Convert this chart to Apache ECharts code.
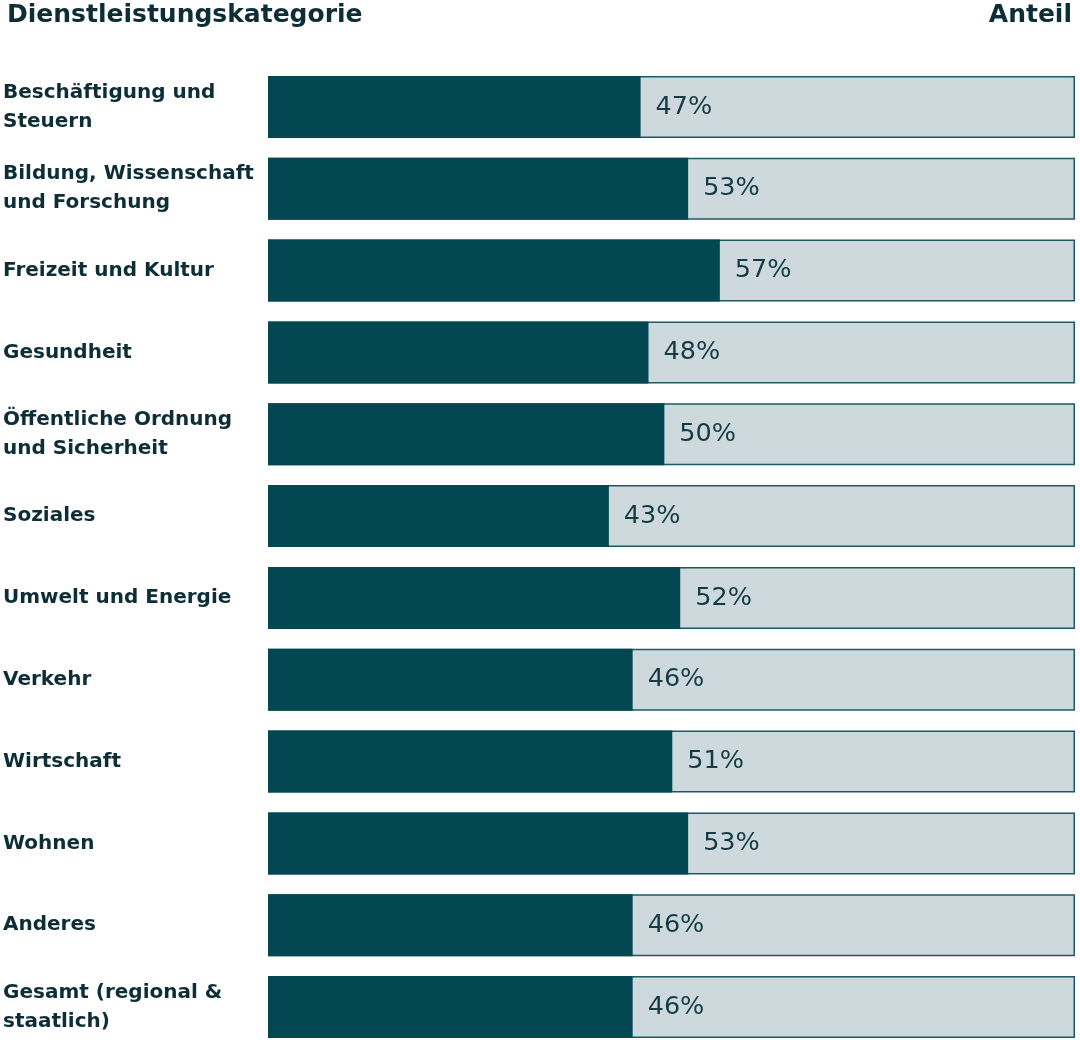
<!DOCTYPE html>
<html>
<head>
<meta charset="utf-8">
<script src="https://cdn.jsdelivr.net/npm/echarts@6/dist/echarts.min.js"></script>
<style>html,body{margin:0;padding:0;background:#fff}#c{width:1080px;height:1044px}</style>
</head>
<body>
<div id="c"></div>
<script>
const categories = [
  "Beschäftigung und\nSteuern",
  "Bildung, Wissenschaft\nund Forschung",
  "Freizeit und Kultur",
  "Gesundheit",
  "Öffentliche Ordnung\nund Sicherheit",
  "Soziales",
  "Umwelt und Energie",
  "Verkehr",
  "Wirtschaft",
  "Wohnen",
  "Anderes",
  "Gesamt (regional &\nstaatlich)"
];
const shares = [47, 53, 57, 48, 50, 43, 52, 46, 51, 53, 46, 46];
const scaleMax = 101.8;
const trackValues = categories.map(() => scaleMax);

const chart = echarts.init(document.getElementById('c'), null, {renderer: 'canvas'});
const FONT = '"DejaVu Sans", "Open Sans", sans-serif';
chart.setOption({
  animation: false,
  backgroundColor: '#ffffff',
  title: [
    {text: 'Dienstleistungskategorie', left: 2, top: -2,
     textStyle: {fontFamily: FONT, fontWeight: 700, fontSize: 25, color: '#0e2e37'}},
    {text: 'Anteil', right: 3, top: -2,
     textStyle: {fontFamily: FONT, fontWeight: 700, fontSize: 25, color: '#0e2e37'}}
  ],
  grid: {left: 268, right: 5, top: 66, height: 982, outerBoundsMode: 'none', containLabel: false},
  xAxis: {type: 'value', min: 0, max: scaleMax, show: false},
  yAxis: {
    type: 'category', data: categories, inverse: true,
    axisLine: {show: false}, axisTick: {show: false},
    axisLabel: {align: 'left', margin: 265, fontFamily: FONT, fontWeight: 700,
      fontSize: 20, lineHeight: 29, color: '#0e2e37'}
  },
  series: [
    {type: 'bar', data: trackValues, barWidth: 62, barGap: '-100%', silent: true,
     itemStyle: {color: '#cdd9dd', borderColor: '#1d5a64', borderWidth: 1.5}},
    {type: 'bar', data: shares, barWidth: 62, z: 3,
     itemStyle: {color: '#024751'},
     label: {show: true, position: 'right', distance: 15, formatter: '{c}%',
       fontFamily: FONT, fontSize: 25.5, color: '#163b44'}}
  ]
});
</script>
</body>
</html>
